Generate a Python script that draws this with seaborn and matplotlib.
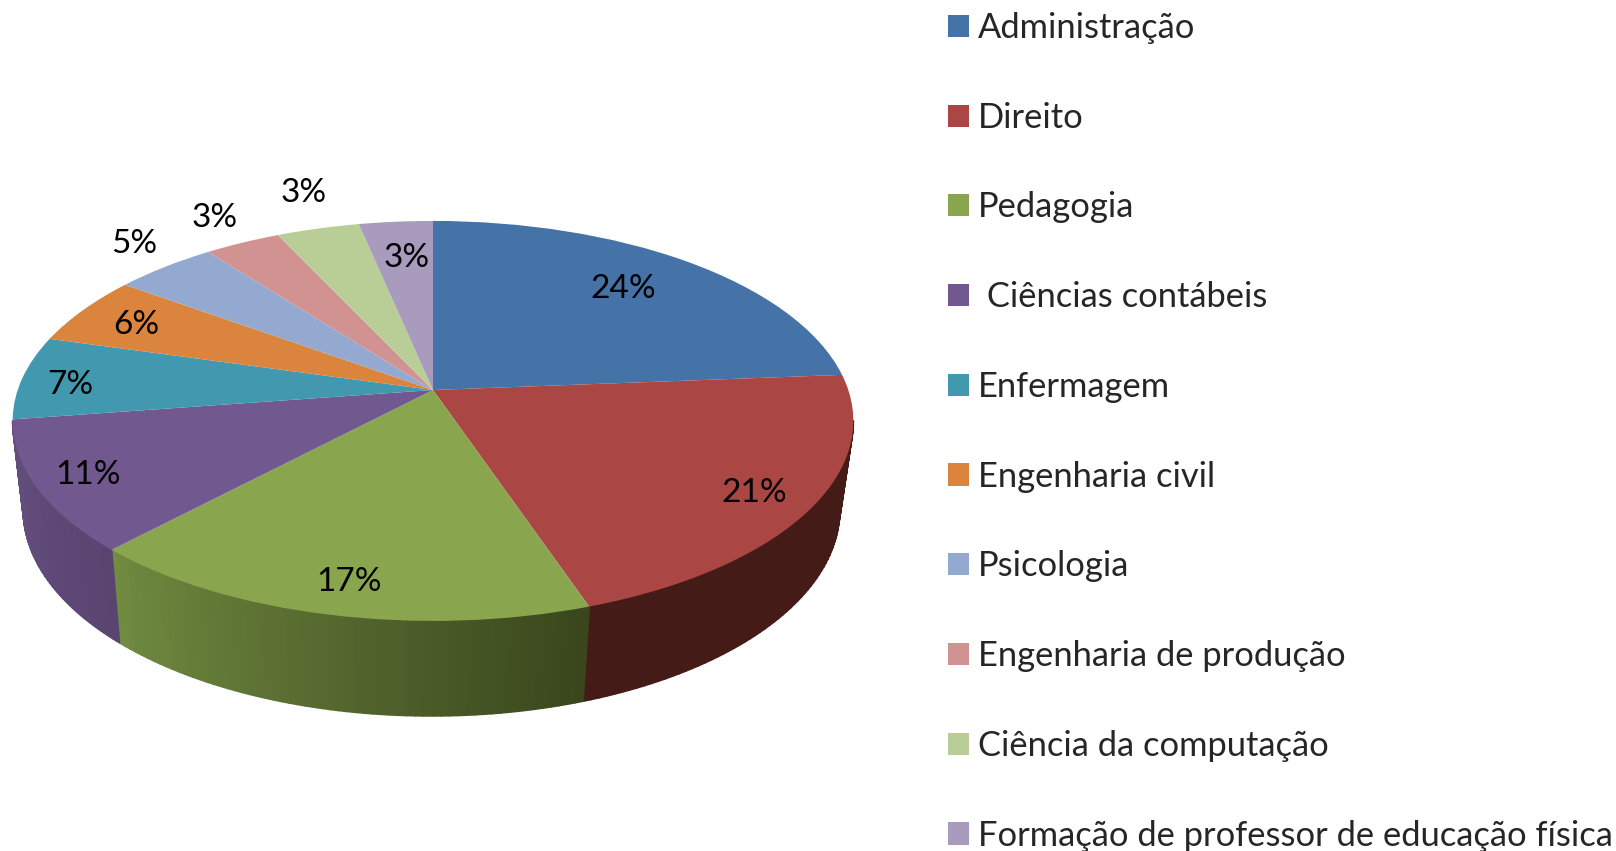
import numpy as np
import seaborn as sns
from matplotlib import pyplot as plt
from matplotlib.collections import PolyCollection
from matplotlib.colors import to_rgb
from matplotlib.transforms import Transform

courses = ["Administração", "Direito", "Pedagogia", " Ciências contábeis", "Enfermagem",
           "Engenharia civil", "Psicologia", "Engenharia de produção",
           "Ciência da computação", "Formação de professor de educação física"]
# slice sizes, the labels are the rounded figures printed on it
shares = [23.75, 21.05, 17.25, 10.6, 6.75, 5.6, 4.6, 3.4, 3.7, 3.3]
pct_labels = ["24%", "21%", "17%", "11%", "7%", "6%", "5%", "3%", "3%", "3%"]
label_radius = [0.757, 0.863, 0.867, 0.877, 0.878, 0.834, 1.18, 1.195, 1.258, 0.764]
label_turn = [1.5, -0.7, 0.7, 0, 1.6, 0.6, -2.1, -0.6, -1.5, -0.7]
colors = ["#4572A7", "#AA4643", "#89A54E", "#71588F", "#4198AF",
          "#DB843D", "#93A9CF", "#D19392", "#B9CD96", "#A99BBD"]
# side wall colour, left and right end of each slice that shows a wall
wall_left = {1: "#451B18", 2: "#718B41", 3: "#655080"}
wall_right = {1: "#451B18", 2: "#3A461C", 3: "#5A4470"}

APEX = (433.0, 390.0)
A, B, K = 415.3, 195.2, 0.1546


class Tilt(Transform):
    """Lays the flat unit pie down on the table, with perspective."""
    input_dims = output_dims = 2

    def transform_non_affine(self, xy):
        xy = np.asarray(xy, dtype=float)
        w = 1 + K * xy[:, 1]
        return np.column_stack([APEX[0] + A * xy[:, 0] / w, APEX[1] - B * xy[:, 1] / w])


tilt = Tilt()


def rim_point(deg):
    t = np.radians(deg)
    return tilt.transform(np.column_stack([np.cos(t), np.sin(t)]))


def lower_rim(top):
    # bottom edge of the wall is a narrower ellipse further down
    return np.column_stack([431.5 + 0.971 * (top[:, 0] - 433), 509 + 1.03 * (top[:, 1] - 420)])


sns.set_theme(style="white")
plt.rcParams["font.family"] = ["Lato", "DejaVu Sans"]

fig = plt.figure(figsize=(16.16, 8.51), dpi=100)
ax = fig.add_axes([0, 0, 1, 1])

wedges, _ = ax.pie(shares, colors=colors, startangle=90, counterclock=False)
ax.set_aspect("auto")
ax.set(xlim=(0, 1616), ylim=(851, 0))
ax.axis("off")
for w in wedges:
    w.set_transform(tilt + ax.transData)
    w.set_linewidth(0)
    w.set_zorder(3)

# walls, in thin strips so the shading runs along the rim
wall_lo, wall_hi = -180 - np.degrees(np.arcsin(-K)), np.degrees(np.arcsin(-K))
for i, w in enumerate(wedges):
    if i not in wall_left:
        continue
    start, stop = max(w.theta1, wall_lo), min(w.theta2, wall_hi)
    if w.theta1 > wall_hi:
        start, stop = max(w.theta1 - 360, wall_lo), min(w.theta2 - 360, wall_hi)
    angles = np.linspace(start, stop, 61)
    top = rim_point(angles)
    low = lower_rim(top)
    strips = [[top[j], top[j + 1], low[j + 1], low[j]] for j in range(60)]
    mix = np.linspace(0, 1, 60)[:, None]
    strip_colors = (1 - mix) * np.array(to_rgb(wall_left[i])) + mix * np.array(to_rgb(wall_right[i]))
    ax.add_collection(PolyCollection(strips, facecolors=strip_colors, edgecolors=strip_colors,
                                     linewidths=1.2, zorder=2))

for w, txt, r, turn in zip(wedges, pct_labels, label_radius, label_turn):
    mid = np.radians((w.theta1 + w.theta2) / 2 + turn)
    px, py = tilt.transform(np.array([[r * np.cos(mid), r * np.sin(mid)]]))[0]
    ax.text(px, py + 1, txt, ha="center", va="center", fontsize=24, color="black", zorder=5)

ax.legend(wedges, courses, loc="upper left", bbox_to_anchor=(948, 12), bbox_transform=ax.transData,
          frameon=False, fontsize=24.85, borderpad=0, borderaxespad=0, handlelength=0.61,
          handleheight=0.61, handletextpad=0.27, labelspacing=1.673)

plt.savefig("out.png", dpi=100)
